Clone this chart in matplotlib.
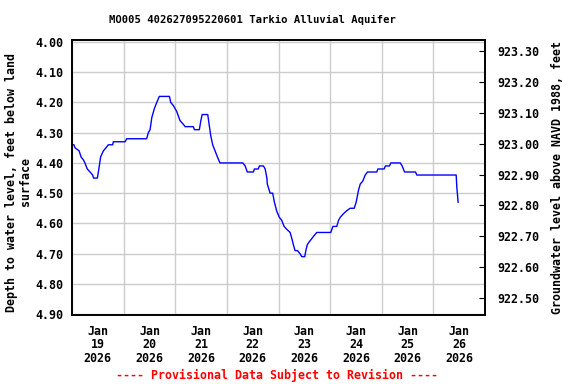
import matplotlib
matplotlib.use("Agg")
import matplotlib.pyplot as plt
import matplotlib.dates as mdates
import numpy as np
from datetime import datetime, timedelta

# Hours since 2026-01-19 00:00 and depth to water (ft below land surface)
hours = [0, 0.9, 1.4, 3.3, 4.2, 5.3, 6.0, 7.1, 8.4, 9.6, 10, 11.8, 12.7, 13.3,
         14.6, 15.8, 16.9, 18.9, 19.2, 24.7, 25.4, 34.7, 35.5, 36.3, 37.1, 38.3,
         39.4, 40.6, 45.3, 45.9, 47.1, 48.7, 50.2, 51.5, 52.6, 56.4, 56.9, 59.2,
         59.9, 60.5, 63.1, 63.7, 64.5, 65.4, 66.5, 67.6, 68.8, 79.4, 80.5, 81.5,
         84.3, 84.8, 86.6, 87.1, 89.0, 89.8, 90.6, 90.8, 92.1, 93.3, 94.1, 95.2,
         96.4, 97.5, 98.6, 99.9, 101.4, 102.2, 102.9, 103.7, 104.8, 106.0, 106.8,
         108.2, 108.7, 109.4, 110.4, 111.5, 112.6, 113.8, 120.3, 121.3, 123.1,
         123.9, 124.7, 125.9, 127.4, 129.3, 131.2, 132.1, 133.2, 134.0, 135.2,
         136.3, 137.4, 141.7, 142.2, 145.1, 145.7, 147.6, 148.2, 152.6, 153.5,
         154.6, 159.7, 160.3, 178.6, 178.9, 179.5]
depth = [4.34, 4.34, 4.35, 4.36, 4.38, 4.39, 4.40, 4.42, 4.43, 4.44, 4.45, 4.45,
         4.41, 4.38, 4.36, 4.35, 4.34, 4.34, 4.33, 4.33, 4.32, 4.32, 4.30, 4.29,
         4.25, 4.22, 4.20, 4.18, 4.18, 4.20, 4.21, 4.23, 4.26, 4.27, 4.28, 4.28,
         4.29, 4.29, 4.26, 4.24, 4.24, 4.27, 4.31, 4.34, 4.36, 4.38, 4.40, 4.40,
         4.41, 4.43, 4.43, 4.42, 4.42, 4.41, 4.41, 4.42, 4.45, 4.47, 4.50, 4.50,
         4.53, 4.56, 4.58, 4.59, 4.61, 4.62, 4.63, 4.65, 4.67, 4.69, 4.69, 4.70,
         4.71, 4.71, 4.69, 4.67, 4.66, 4.65, 4.64, 4.63, 4.63, 4.61, 4.61, 4.59,
         4.58, 4.57, 4.56, 4.55, 4.55, 4.53, 4.49, 4.47, 4.46, 4.44, 4.43, 4.43,
         4.42, 4.42, 4.41, 4.41, 4.40, 4.40, 4.41, 4.43, 4.43, 4.44, 4.44, 4.48,
         4.53]

left_ticks = [4.00, 4.10, 4.20, 4.30, 4.40, 4.50, 4.60, 4.70, 4.80, 4.90]
right_ticks = [922.50, 922.60, 922.70, 922.80, 922.90, 923.00, 923.10, 923.20, 923.30]

title = "MO005 402627095220601 Tarkio Alluvial Aquifer"
start = datetime(2026, 1, 19)

font = "DejaVu Sans Mono"
fs = 8.4

# Create the plot
fig = plt.figure(figsize=(5.76, 3.84), dpi=100)
ax = fig.add_axes([72 / 576, 69 / 384, 413 / 576, 275 / 384])

times = [start + timedelta(hours=h) for h in hours]
ax.plot(times, depth, color="#0000ff", linewidth=1.0)

ax.set_xlim(start, start + timedelta(days=8))
ax.set_ylim(4.903, 3.9934)

# Day boundaries get the grid, labels sit at noon
ax.xaxis.set_major_locator(mdates.DayLocator())
ax.xaxis.set_major_formatter(plt.NullFormatter())
ax.xaxis.set_minor_locator(mdates.HourLocator(byhour=[12]))
ax.xaxis.set_minor_formatter(mdates.DateFormatter("%b\n%d\n%Y"))
ax.tick_params(axis="x", which="both", length=0, pad=7)
for lbl in ax.xaxis.get_minorticklabels():
    lbl.set_fontfamily(font)
    lbl.set_fontweight("bold")
    lbl.set_fontsize(fs)
    lbl.set_linespacing(1.05)

ax.set_yticks(left_ticks)
ax.set_yticklabels(["{:.2f}".format(v) for v in left_ticks],
                   fontfamily=font, fontweight="bold", fontsize=fs)
ax.tick_params(axis="y", length=0, pad=6)

ax.grid(True, which="major", color="#cccccc", linewidth=1.0)
ax.set_axisbelow(True)
for s in ax.spines.values():
    s.set_linewidth(1.2)

# Right-hand elevation axis
ax2 = ax.twinx()
ax2.set_ylim(922.445, 923.3356)
ax2.set_yticks(right_ticks)
ax2.set_yticklabels(["{:.2f}".format(v) for v in right_ticks],
                    fontfamily=font, fontweight="bold", fontsize=fs)
ax2.tick_params(axis="y", direction="in", length=4, pad=9)
ax2.set_ylabel("Groundwater level above NAVD 1988, feet",
               fontfamily=font, fontweight="bold", fontsize=fs, labelpad=8)
for s in ax2.spines.values():
    s.set_linewidth(1.2)

fig.text(18.5 / 576, 1 - 182 / 384, "Depth to water level, feet below land\nsurface",
         rotation=90, ha="center", va="center", multialignment="center",
         fontfamily=font, fontweight="bold", fontsize=fs, linespacing=1.15)
fig.text(252 / 576, 1 - 20 / 384, title, ha="center", va="center",
         fontfamily=font, fontweight="bold", fontsize=7.6)
fig.text(277 / 576, 1 - 375 / 384, "---- Provisional Data Subject to Revision ----",
         ha="center", va="center", color="#ff0000",
         fontfamily=font, fontweight="bold", fontsize=fs)

fig.savefig("out.png", dpi=100)
